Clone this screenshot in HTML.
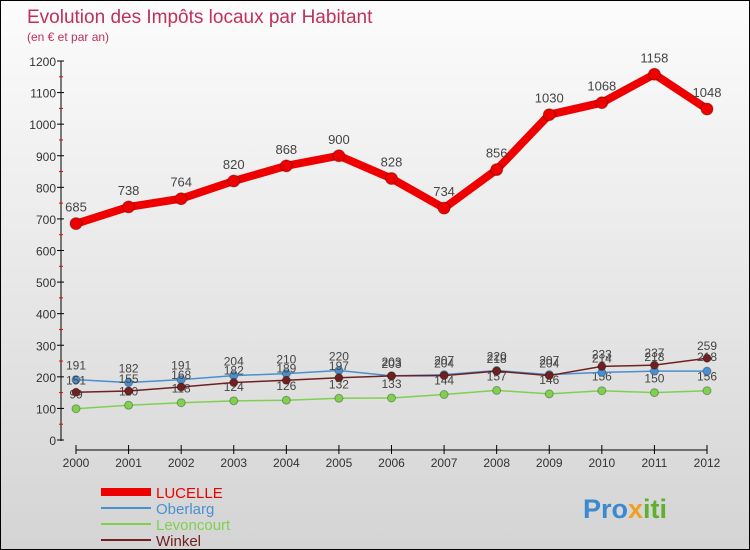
<!DOCTYPE html>
<html><head><meta charset="utf-8"><style>
body{margin:0}
#c{position:relative;width:748px;height:548px;border:1px solid #000;background:linear-gradient(#fcfcfc,#dcdcdc 80%,#d4d4d4);font-family:"Liberation Sans",sans-serif;overflow:hidden}
svg text{font-family:"Liberation Sans",sans-serif}
</style></head><body>
<div id="c">
<svg width="748" height="548" id="s">
<text x="26" y="22" font-size="19" fill="#c0305a">Evolution des Impôts locaux par Habitant</text>
<text x="26" y="40" font-size="12" fill="#c0305a">(en € et par an)</text>
<g id="axes"></g><g id="series"></g>
<g>
<line x1="100" y1="491" x2="150" y2="491" stroke="#e00" stroke-width="8"/>
<text x="155" y="497" font-size="15" fill="#e00">LUCELLE</text>
<line x1="100" y1="507" x2="150" y2="507" stroke="#4a90d0" stroke-width="2"/>
<text x="155" y="513" font-size="15" fill="#4a90d0">Oberlarg</text>
<line x1="100" y1="523" x2="150" y2="523" stroke="#80d050" stroke-width="2"/>
<text x="155" y="529" font-size="15" fill="#80d050">Levoncourt</text>
<line x1="100" y1="539" x2="150" y2="539" stroke="#702020" stroke-width="2"/>
<text x="155" y="545" font-size="15" fill="#702020">Winkel</text>
</g>
<text x="582" y="517" font-size="27" font-weight="bold" fill="#3a8ad0">Pro<tspan fill="#f0a020">x</tspan><tspan fill="#60b030">iti</tspan></text>
</svg>
</div>
<script>
const years=["2000","2001","2002","2003","2004","2005","2006","2007","2008","2009","2010","2011","2012"];
const yTicks=[0,100,200,300,400,500,600,700,800,900,1000,1100,1200];
const lucelle=[685,738,764,820,868,900,828,734,856,1030,1068,1158,1048];
const oberlarg=[191,182,191,204,210,220,203,207,220,207,214,218,218];
const levoncourt=[99,110,118,124,126,132,133,144,157,146,156,150,156];
const winkel=[151,155,168,182,189,197,203,204,218,204,233,237,259];
const NS="http://www.w3.org/2000/svg";
const X=i=>75+i*(706-75)/12, Y=v=>439-v*(439-60)/1200;
function mk(t,a,p){const e=document.createElementNS(NS,t);for(const k in a)e.setAttribute(k,a[k]);p.appendChild(e);return e;}
const ax=document.getElementById('axes'), se=document.getElementById('series');
let e=mk('line',{x1:60,y1:60,x2:60,y2:440,stroke:'#000'},ax);

e=mk('line',{x1:75,y1:449,x2:706,y2:449,stroke:'#000'},ax);

yTicks.forEach(v=>{mk('line',{x1:56,y1:Y(v),x2:63,y2:Y(v),stroke:'#000'},ax);
 if(v<1200)mk('line',{x1:58,y1:Y(v+50),x2:62,y2:Y(v+50),stroke:'#e00'},ax);
 const t=mk('text',{x:55,y:Y(v)+5,'font-size':12,'text-anchor':'end',fill:'#333'},ax);t.textContent=v;
 });
years.forEach((y,i)=>{mk('line',{x1:X(i),y1:444,x2:X(i),y2:453,stroke:'#000'},ax);
 const t=mk('text',{x:X(i),y:466,'font-size':12,'text-anchor':'middle',fill:'#333'},ax);t.textContent=y;
 });
function draw(data,col,w,r,name,lab){
 const l=mk('polyline',{points:data.map((v,i)=>X(i)+','+Y(v)).join(' '),fill:'none',stroke:col,'stroke-width':w,'stroke-linejoin':'round'},se);
 
 data.forEach((v,i)=>{const c=mk('circle',{cx:X(i),cy:Y(v),r:r,fill:col,stroke:'rgba(0,0,0,0.3)'},se);
  
  const t=mk('text',{x:X(i),y:Y(v)+lab,'font-size':lab<0&&w>5?13:12,'text-anchor':'middle',fill:'#444'},se);t.textContent=v;
  });
}
draw(levoncourt,'#80d050',1.5,4,'levoncourt',-10);
draw(oberlarg,'#4a90d0',1.5,4,'oberlarg',-10);
draw(winkel,'#702020',1.5,4,'winkel',-8);
draw(lucelle,'#e00',8,6,'lucelle',-12);
</script>
</body></html>
